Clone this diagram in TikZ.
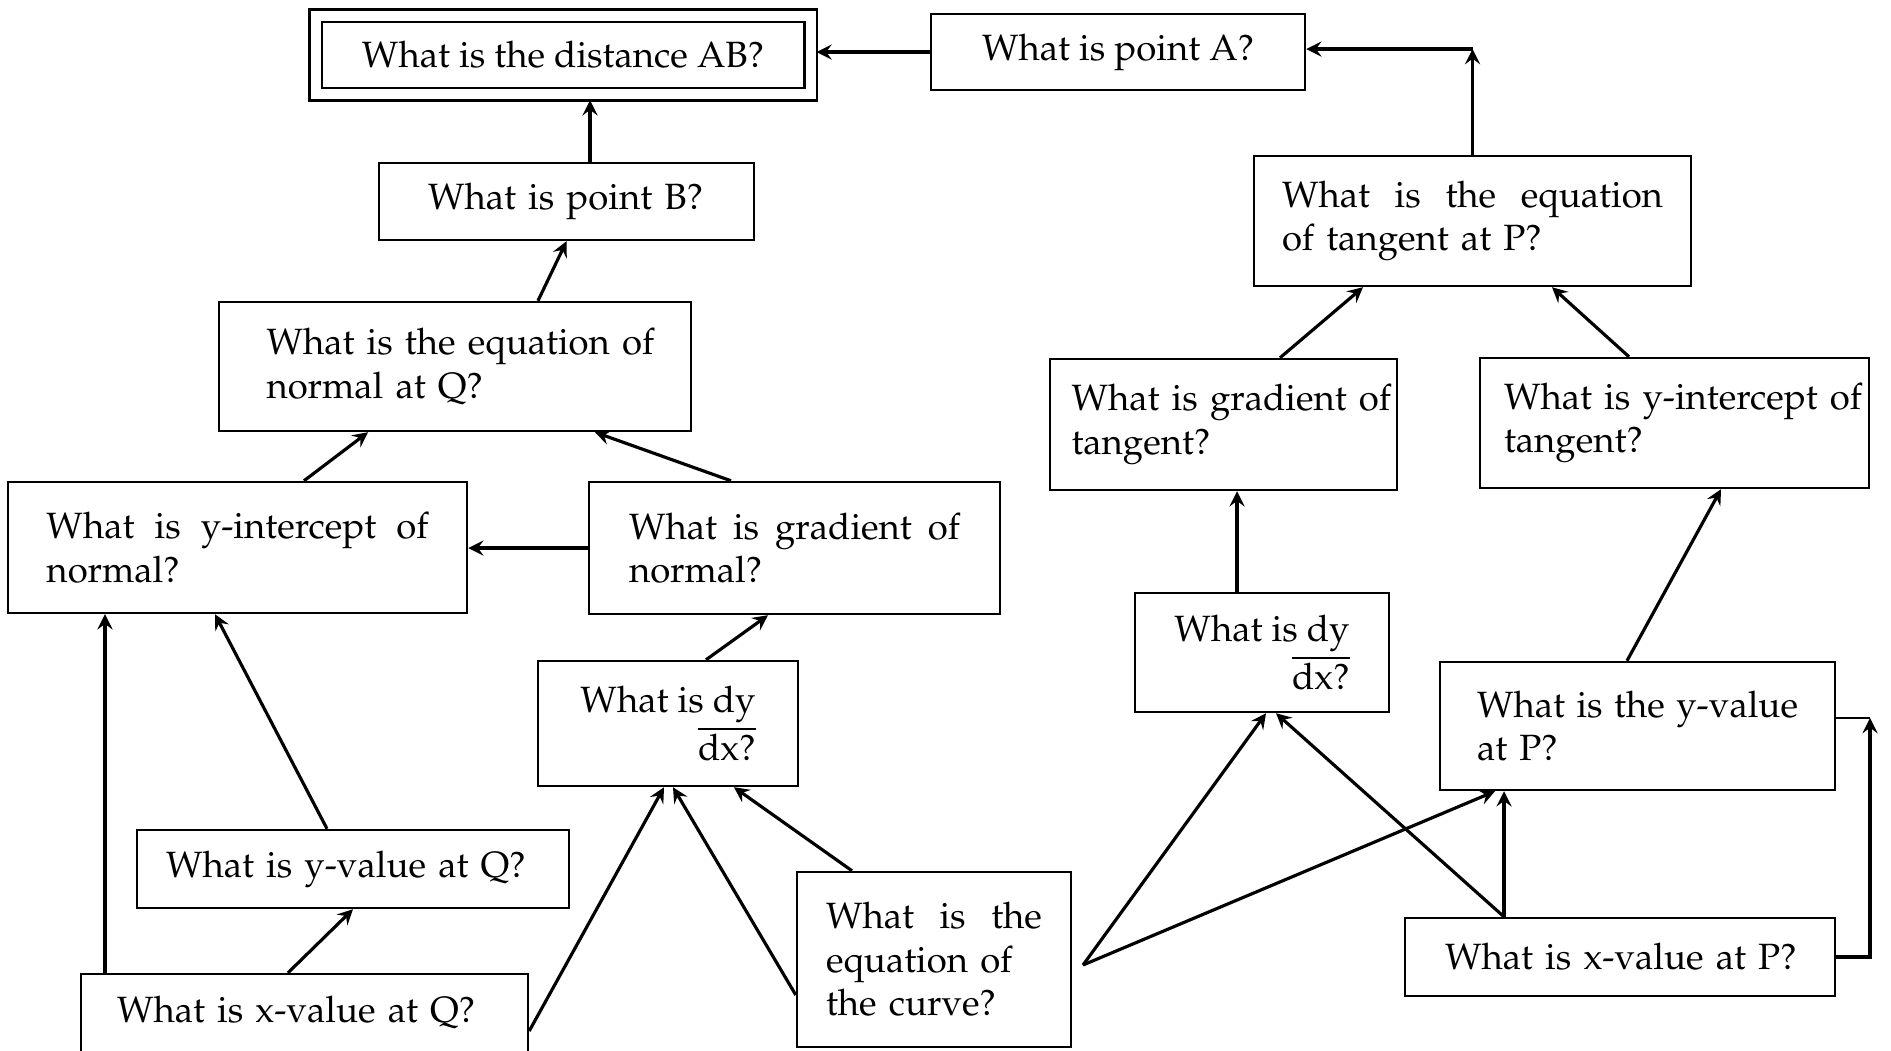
\documentclass[tikz,border=0pt]{standalone}
\usepackage[T1]{fontenc}
\usepackage{mathpazo}
\newcommand{\fullline}[1]{\makebox[\hsize][s]{\spaceskip=0pt\relax #1}}

\begin{document}
\begin{tikzpicture}[x=1cm, y=1cm, >=stealth, line width=0.9pt,
        box/.style={draw, line width=0.7pt, inner sep=0pt, font=\fontsize{10.4}{12.4}\selectfont}]
        \useasboundingbox (0,0) rectangle (18.91,-10.50);
        \node[box, double, double distance=1mm, outer sep=0.6mm, minimum width=4.95cm, minimum height=0.785cm] (AB) at (5.63,-0.55) {What is the distance AB?};
        \node[box, minimum width=3.74cm, minimum height=0.76cm] (A) at (11.18,-0.52) {What is point A?};
        \node[box, minimum width=3.75cm, minimum height=0.77cm, text width=2.77cm, align=left] (B) at (5.665,-2.015) {What is point B?};
        \node[box, minimum width=4.72cm, minimum height=1.29cm, text width=3.77cm, align=left] (nQ) at (4.55,-3.665) {\mbox{What is the equation of}\\normal at Q?};
        \node[box, minimum width=4.37cm, minimum height=1.30cm, text width=3.81cm, align=left] (tP) at (14.725,-2.21) {\fullline{What is the equation}\\of tangent at P?};
        \node[box, minimum width=3.47cm, minimum height=1.31cm, text width=3.04cm, align=left] (gT) at (12.235,-4.245) {\mbox{What is gradient of}\\tangent?};
        \node[box, minimum width=3.89cm, minimum height=1.30cm, text width=3.41cm, align=left] (iT) at (16.745,-4.23) {\mbox{What is y-intercept of}\\tangent?};
        \node[box, minimum width=4.59cm, minimum height=1.31cm, text width=3.82cm, align=left] (iN) at (2.375,-5.475) {\fullline{What is y-intercept of}\\normal?};
        \node[box, minimum width=4.11cm, minimum height=1.32cm, text width=3.31cm, align=left] (gN) at (7.945,-5.48) {\fullline{What is gradient of}\\normal?};
        \node[box, minimum width=2.60cm, minimum height=1.25cm, align=right] (dL) at (6.68,-7.235) {What is dy\\$\overline{\mbox{dx?}}$};
        \node[box, minimum width=2.54cm, minimum height=1.19cm, align=right] (dR) at (12.62,-6.525) {What is dy\\$\overline{\mbox{dx?}}$};
        \node[box, minimum width=3.95cm, minimum height=1.28cm, text width=3.21cm, align=left] (yP) at (16.375,-7.26) {\fullline{What is the y-value}\\at P?};
        \node[box, minimum width=4.32cm, minimum height=0.78cm, text width=3.74cm, align=left] (yQ) at (3.53,-8.69) {What is y-value at Q?};
        \node[box, minimum width=4.47cm, minimum height=0.78cm, text width=3.75cm, align=left] (xQ) at (3.045,-10.13) {What is x-value at Q?};
        \node[box, minimum width=2.74cm, minimum height=1.75cm, text width=2.16cm, align=left] (cv) at (9.34,-9.595) {\fullline{What is the}\\equation of\\the curve?};
        \node[box, minimum width=4.30cm, minimum height=0.78cm, text width=3.50cm, align=left] (xP) at (16.20,-9.57) {\mbox{What is x-value at P?}};
        \coordinate (tc) at (14.725,-0.49);
        \coordinate (cr) at (10.83,-9.65);
        \coordinate (pr) at (18.70,-7.18);
        \draw[->] (A.west) -- (A.west -| AB.east);
        \draw[->] ([xshift=2.35mm]B.north) -- ([xshift=2.35mm]B.north |- AB.south);
        \draw[->] ([xshift=8.3mm]nQ.north) -- (B.south);
        \draw[->] (tP.north) -- (tc);
        \draw[->] (tc) -- (tc -| A.east);
        \draw[->] ([xshift=5.65mm]gT.north) -- ([xshift=-10.95mm]tP.south);
        \draw[->] ([xshift=-4.55mm]iT.north) -- ([xshift=7.95mm]tP.south);
        \draw[->] ([xshift=6.65mm]iN.north) -- ([xshift=-8.7mm]nQ.south);
        \draw[->] ([xshift=-6.35mm]gN.north) -- ([xshift=14mm]nQ.south);
        \draw[->] (gN.west) -- (gN.west -| iN.east);
        \draw[->] ([xshift=3.8mm]dL.north) -- ([xshift=-2.65mm]gN.south);
        \draw[->] ([xshift=-2.5mm]dR.north) -- ([xshift=-2.5mm]dR.north |- gT.south);
        \draw[->] ([xshift=-1.05mm]yP.north) -- ([xshift=4.65mm]iT.south);
        \draw[->] ([xshift=-2.6mm]yQ.north) -- ([xshift=-2.25mm]iN.south);
        \draw[->] ([xshift=-1.65mm]xQ.north) -- (yQ.south);
        \draw[->] ([xshift=-19.95mm]xQ.north) -- ([xshift=-19.95mm]xQ.north |- iN.south);
        \draw[->] ([yshift=-1.8mm]xQ.east) -- ([xshift=-0.4mm]dL.south);
        \draw[->] ([yshift=-3.55mm]cv.west) -- ([xshift=0.5mm]dL.south);
        \draw[->] ([xshift=-8.2mm]cv.north) -- ([xshift=6.6mm]dL.south);
        \draw[->] (cr) -- ([xshift=0.4mm]dR.south);
        \draw[->] (cr) -- ([xshift=-14.25mm]yP.south);
        \draw[->] ([xshift=-11.6mm]xP.north) -- ([xshift=1.4mm]dR.south);
        \draw[->] ([xshift=-11.6mm]xP.north) -- ([xshift=-11.6mm]xP.north |- yP.south);
        \draw[->] (xP.east) -| (pr);
        \draw[thin] (yP.east |- pr) -- (pr);
\end{tikzpicture}
\end{document}
